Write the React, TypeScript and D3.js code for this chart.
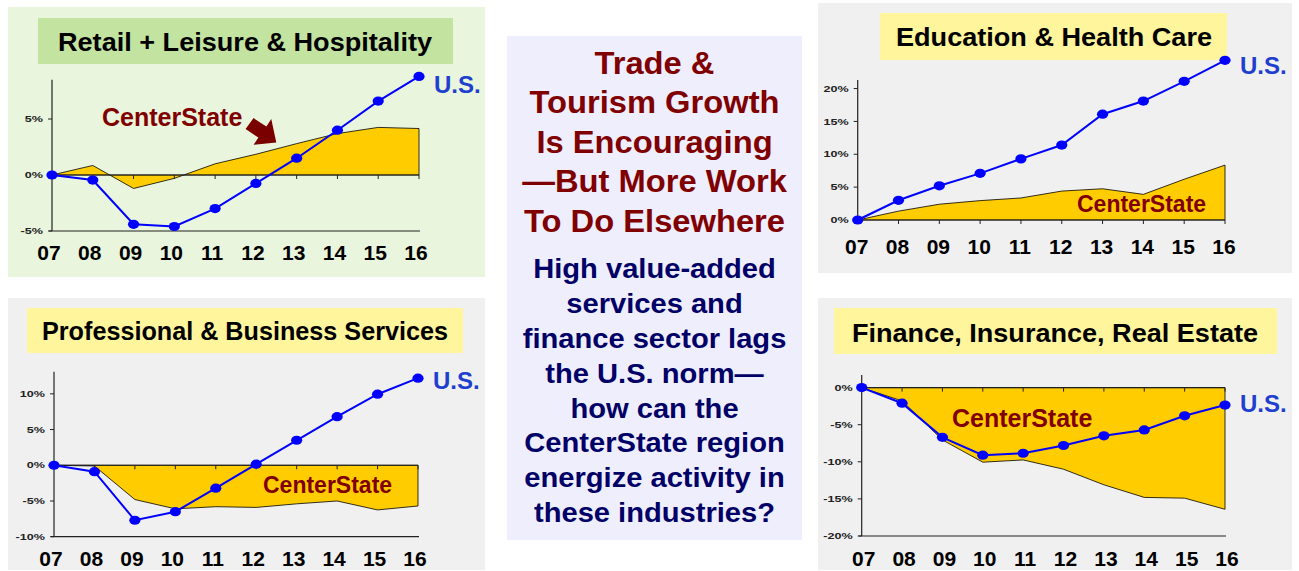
import React from "react";
import * as d3 from "d3";

// ---------- data ----------
const YEARS = ["07", "08", "09", "10", "11", "12", "13", "14", "15", "16"];

const retailUS = [0, -0.45, -4.4, -4.6, -3.0, -0.75, 1.5, 4.0, 6.6, 8.8];
const retailCS = [0, 0.85, -1.2, -0.3, 1.0, 1.85, 2.8, 3.7, 4.25, 4.15];
const retailTicks = [-5, 0, 5];

const profUS = [0, -0.9, -7.7, -6.5, -3.2, 0.15, 3.5, 6.8, 9.95, 12.2];
const profCS = [0, -0.1, -4.8, -6.1, -5.8, -5.9, -5.4, -5.0, -6.25, -5.7];
const profTicks = [-10, -5, 0, 5, 10];

const eduUS = [0, 3.0, 5.2, 7.1, 9.3, 11.4, 16.1, 18.1, 21.1, 24.3];
const eduCS = [0, 1.35, 2.4, 2.95, 3.35, 4.4, 4.75, 3.9, 6.2, 8.35];
const eduTicks = [0, 5, 10, 15, 20];

const finUS = [0, -2.1, -6.7, -9.1, -8.85, -7.8, -6.5, -5.7, -3.8, -2.35];
const finCS = [0, -1.8, -7.05, -10.05, -9.75, -11.0, -13.1, -14.8, -14.9, -16.4];
const finTicks = [-20, -15, -10, -5, 0];

const headlineLines = [
  "Trade &",
  "Tourism Growth",
  "Is Encouraging",
  "\u2014But More Work",
  "To Do Elsewhere",
];
const bodyLines = [
  "High value-added",
  "services and",
  "finance sector lags",
  "the U.S. norm\u2014",
  "how can the",
  "CenterState region",
  "energize activity in",
  "these industries?",
];

// ---------- styles ----------
const FONT = "'Liberation Sans', Arial, Helvetica, sans-serif";

type PanelCfg = {
  title: string;
  titleLen: number;
  bg: string;
  titleFill: string;
  frame: [number, number, number, number];
  titleBox: [number, number, number, number];
  titleX: number;
  titleY: number;
  xRange: [number, number];
  yDomain: [number, number];
  yRange: [number, number];
  ticks: number[];
  us: number[];
  cs: number[];
  xLabelY: number;
  xLabelDx: number;
  usDy: number;
  csLabel: [number, number];
  csSize: number;
  arrow?: [number, number];
};

const panels: PanelCfg[] = [
  {
    title: "Retail + Leisure & Hospitality",
    titleLen: 374,
    bg: "#e9f5dd",
    titleFill: "#c3e4a0",
    frame: [8, 7, 477, 270],
    titleBox: [38, 18, 415, 46],
    titleX: 245,
    titleY: 51,
    xRange: [52, 419],
    yDomain: [-5, 8.5],
    yRange: [231, 79.8],
    ticks: retailTicks,
    us: retailUS,
    cs: retailCS,
    xLabelY: 260,
    xLabelDx: -3,
    usDy: 8,
    csLabel: [102, 126],
    csSize: 25,
    arrow: [5.5, 2.9],
  },
  {
    title: "Professional & Business Services",
    titleLen: 406,
    bg: "#f0f0f0",
    titleFill: "#fff59d",
    frame: [8, 298, 477, 272],
    titleBox: [27, 308, 436, 45],
    titleX: 245,
    titleY: 340,
    xRange: [54, 418],
    yDomain: [-10, 13.1],
    yRange: [536.7, 371.7],
    ticks: profTicks,
    us: profUS,
    cs: profCS,
    xLabelY: 566,
    xLabelDx: -3,
    usDy: 2,
    csLabel: [263, 493],
    csSize: 23,
  },
  {
    title: "Education & Health Care",
    titleLen: 316,
    bg: "#f0f0f0",
    titleFill: "#fff59d",
    frame: [818, 3, 474, 270],
    titleBox: [880, 13, 347, 47],
    titleX: 1054,
    titleY: 46,
    xRange: [857.7, 1225],
    yDomain: [0, 21.3],
    yRange: [220, 80],
    ticks: eduTicks,
    us: eduUS,
    cs: eduCS,
    xLabelY: 254,
    xLabelDx: -1,
    usDy: 5,
    csLabel: [1077, 212],
    csSize: 23,
  },
  {
    title: "Finance, Insurance, Real Estate",
    titleLen: 406,
    bg: "#f0f0f0",
    titleFill: "#fff59d",
    frame: [818, 298, 474, 272],
    titleBox: [834, 308, 443, 46],
    titleX: 1055,
    titleY: 342,
    xRange: [861.7, 1225],
    yDomain: [-20, 1.7],
    yRange: [536, 375],
    ticks: finTicks,
    us: finUS,
    cs: finCS,
    xLabelY: 566,
    xLabelDx: 2,
    usDy: -2,
    csLabel: [952, 427],
    csSize: 25,
  },
];

const fmtPct = (v: number) => `${v}%`;

function Panel({ p }: { p: PanelCfg }) {
  const x = d3.scaleLinear().domain([0, YEARS.length - 1]).range(p.xRange);
  const y = d3.scaleLinear().domain(p.yDomain).range(p.yRange);
  const idx = d3.range(YEARS.length);

  const area = d3
    .area<number>()
    .x((i) => x(i))
    .y0(() => y(0))
    .y1((i) => y(p.cs[i]));
  const line = d3
    .line<number>()
    .x((i) => x(i))
    .y((i) => y(p.us[i]));

  const x0 = x(0);
  const xN = x(YEARS.length - 1);
  const yTop = y(p.yDomain[1]);
  const yBot = y(p.yDomain[0]);
  const y0 = y(0);
  const lastI = YEARS.length - 1;

  let arrowPts = "";
  if (p.arrow) {
    const tx = x(p.arrow[0]);
    const ty = y(p.arrow[1]);
    const rel = [
      [-30.7, -13.4],
      [-22.7, -24.4],
      [-9.9, -16],
      [-5, -23.4],
      [0, 0],
      [-22.7, 2.3],
      [-17.9, -5],
    ];
    arrowPts = rel.map(([dx, dy]) => `${tx + dx},${ty + dy}`).join(" ");
  }

  return (
    <g>
      <rect x={p.frame[0]} y={p.frame[1]} width={p.frame[2]} height={p.frame[3]} fill={p.bg} />
      <rect x={p.titleBox[0]} y={p.titleBox[1]} width={p.titleBox[2]} height={p.titleBox[3]} fill={p.titleFill} />
      <text
        x={p.titleX}
        y={p.titleY}
        textAnchor="middle"
        fontFamily={FONT}
        fontWeight="bold"
        fontSize={26}
        fill="#000"
        textLength={p.titleLen}
        lengthAdjust="spacingAndGlyphs"
      >
        {p.title}
      </text>

      {/* CenterState area */}
      <path d={area(idx) || ""} fill="#ffcc00" stroke="#000" strokeWidth={0.8} />

      {/* zero line with category ticks */}
      <line x1={x0} x2={xN} y1={y0} y2={y0} stroke="#222" strokeWidth={1.2} />
      {idx.slice(1).map((i) => (
        <line key={i} x1={x(i)} x2={x(i)} y1={y0} y2={y0 + 4} stroke="#222" strokeWidth={1} />
      ))}
      {/* bottom line */}
      {p.yDomain[0] < 0 && (
        <line x1={x0 - 3} x2={xN + 1} y1={yBot} y2={yBot} stroke="#222" strokeWidth={1.2} />
      )}
      {/* y axis */}
      <line x1={x0} x2={x0} y1={yTop} y2={yBot} stroke="#222" strokeWidth={1.2} />
      {p.ticks.map((t) => (
        <g key={t}>
          <line x1={x0 - 4} x2={x0} y1={y(t)} y2={y(t)} stroke="#222" strokeWidth={1} />
          <text
            transform={`translate(${x0 - 9},${y(t) + 3.2}) scale(1.4,1)`}
            textAnchor="end"
            fontFamily={FONT}
            fontWeight="bold"
            fontSize={9}
            fill="#222"
          >
            {fmtPct(t)}
          </text>
        </g>
      ))}

      {/* U.S. line */}
      <path d={line(idx) || ""} fill="none" stroke="#0000ff" strokeWidth={2} />
      {idx.map((i) => (
        <ellipse key={i} cx={x(i)} cy={y(p.us[i])} rx={5.6} ry={4.6} fill="#0000ff" />
      ))}

      {/* x labels */}
      {idx.map((i) => (
        <text
          key={i}
          x={x(i) + p.xLabelDx}
          y={p.xLabelY}
          textAnchor="middle"
          fontFamily={FONT}
          fontWeight="bold"
          fontSize={21}
          fill="#000"
        >
          {YEARS[i]}
        </text>
      ))}

      <text
        x={x(lastI) + 15}
        y={y(p.us[lastI]) + p.usDy + 8.6}
        fontFamily={FONT}
        fontWeight="bold"
        fontSize={24}
        fill="#1f3fcf"
      >
        U.S.
      </text>
      <text
        x={p.csLabel[0]}
        y={p.csLabel[1]}
        fontFamily={FONT}
        fontWeight="bold"
        fontSize={p.csSize}
        fill="#800000"
      >
        CenterState
      </text>
      {p.arrow && <polygon points={arrowPts} fill="#7a0000" />}
    </g>
  );
}

export default function App() {
  const cx = 654.5;
  return (
    <svg
      width={1299}
      height={571}
      style={{ position: "absolute", left: 0, top: 0, display: "block", background: "#fff" }}
    >
      <rect x={0} y={0} width={1299} height={571} fill="#fff" />
      {panels.map((p, i) => (
        <Panel key={i} p={p} />
      ))}
      <rect x={507} y={36} width={295} height={504} fill="#eeeefd" />
      {headlineLines.map((t, i) => (
        <text
          key={t}
          transform={`translate(${cx},${73.5 + i * 39.5}) scale(1.055,1)`}
          textAnchor="middle"
          fontFamily={FONT}
          fontWeight="bold"
          fontSize={31}
          fill="#800000"
        >
          {t}
        </text>
      ))}
      {bodyLines.map((t, i) => (
        <text
          key={t}
          transform={`translate(${cx},${278.3 + i * 34.8}) scale(1.04,1)`}
          textAnchor="middle"
          fontFamily={FONT}
          fontWeight="bold"
          fontSize={28}
          fill="#000066"
        >
          {t}
        </text>
      ))}
    </svg>
  );
}
